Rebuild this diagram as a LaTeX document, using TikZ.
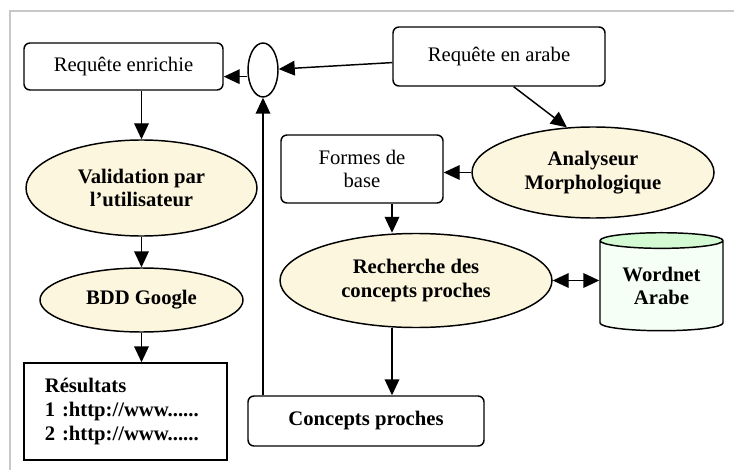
\documentclass[tikz,border=0pt]{standalone}
\usepackage{fontspec}
\setmainfont{Liberation Serif}
\usetikzlibrary{arrows.meta}
\usetikzlibrary{shapes}

\definecolor{creme}{RGB}{253,246,222}
\definecolor{vertHaut}{RGB}{212,250,212}
\definecolor{vertCorps}{RGB}{246,255,246}
\definecolor{cadreGris}{RGB}{200,200,200}

\begin{document}
\begin{tikzpicture}[x = 0.75pt, y = -0.75pt, line width = 1.1pt, font = \fontsize{15.5}{17.5}\selectfont]
\tikzstyle{boiteStyle} = [draw, rounded corners = 4.5pt, align = center, inner sep = 0pt]
\tikzstyle{ovaleStyle} = [draw, ellipse, fill = creme, align = center, inner sep = 0pt, font = \fontsize{15.5}{17.5}\selectfont\bfseries]
\tikzstyle{flecheStyle} = [-{Triangle[length = 12pt, width = 11pt]}]
\useasboundingbox (0, 0) rectangle (734, 470);
\draw[cadreGris, line width = 1.5pt] (9.5, 470) -- (9.5, 11.5) -- (734, 11.5);
\node[boiteStyle, minimum width = 149.25pt, minimum height = 35.25pt] (enrichie) at (123.5, 66.5) {Requête enrichie};
\node[draw, ellipse, minimum width = 22.5pt, minimum height = 40.5pt, inner sep = 0pt] (petit) at (263, 70) {};
\node[boiteStyle, minimum width = 159pt, minimum height = 44.25pt] (arabe) at (499, 56.5) {Requête en arabe};
\node[ovaleStyle, minimum width = 173.25pt, minimum height = 72pt] (validation) at (141.5, 188) {Validation par\\l’utilisateur};
\node[boiteStyle, minimum width = 121.5pt, minimum height = 51pt] (formes) at (362, 169) {Formes de\\base};
\node[ovaleStyle, minimum width = 181.5pt, minimum height = 68.25pt] (analyseur) at (593, 172.5) {Analyseur\\Morphologique};
\node[ovaleStyle, minimum width = 204pt, minimum height = 70.5pt] (recherche) at (416, 280.5) {Recherche des\\concepts proches};
\node[draw, cylinder, shape border rotate = 90, aspect = 0.2, cylinder uses custom fill, cylinder end fill = vertHaut, cylinder body fill = vertCorps, minimum width = 92.25pt, minimum height = 73.5pt, inner sep = 0pt, align = center, font = \fontsize{15.5}{17.5}\selectfont\bfseries] (wordnet) at (661.5, 286) {Wordnet\\Arabe};
\node[boiteStyle, minimum width = 177pt, minimum height = 37.5pt, font = \fontsize{15.5}{17.5}\selectfont\bfseries] (concepts) at (366, 421) {Concepts proches};
\node[ovaleStyle, minimum width = 152.25pt, minimum height = 48pt] (bdd) at (141.5, 300) {BDD Google};
\node[draw, minimum width = 152.25pt, minimum height = 72.75pt, text width = 121pt, align = left, font = \fontsize{15.5}{18}\selectfont\bfseries] (resultats) at (125.5, 411.5) {Résultats\\1 :http://www......\\2 :http://www......};
\coordinate (axe) at (392, 0);
\draw[flecheStyle] (arabe) -- (petit);
\draw[flecheStyle] ([yshift = -5pt]petit.west) -- ([yshift = -5pt]petit.west -| enrichie.east);
\draw[flecheStyle] (validation.north |- enrichie.south) -- (validation.north);
\draw[flecheStyle] (validation.south) -- (bdd.north);
\draw[flecheStyle] (bdd.south) -- (bdd.south |- resultats.north);
\draw[flecheStyle] ([xshift = 11pt]arabe.south) -- (analyseur.120);
\draw[flecheStyle] (analyseur.west) -- (analyseur.west -| formes.east);
\draw[flecheStyle] (formes.south -| axe) -- (recherche.north -| axe);
\draw[flecheStyle] (recherche.south -| axe) -- (concepts.north -| axe);
\draw[flecheStyle] (concepts.north -| petit.south) -- (petit.south);
\draw[{Triangle[length = 12pt, width = 11pt]}-{Triangle[length = 12pt, width = 11pt]}] (recherche.east) -- (recherche.east -| wordnet.west);
\end{tikzpicture}
\end{document}
